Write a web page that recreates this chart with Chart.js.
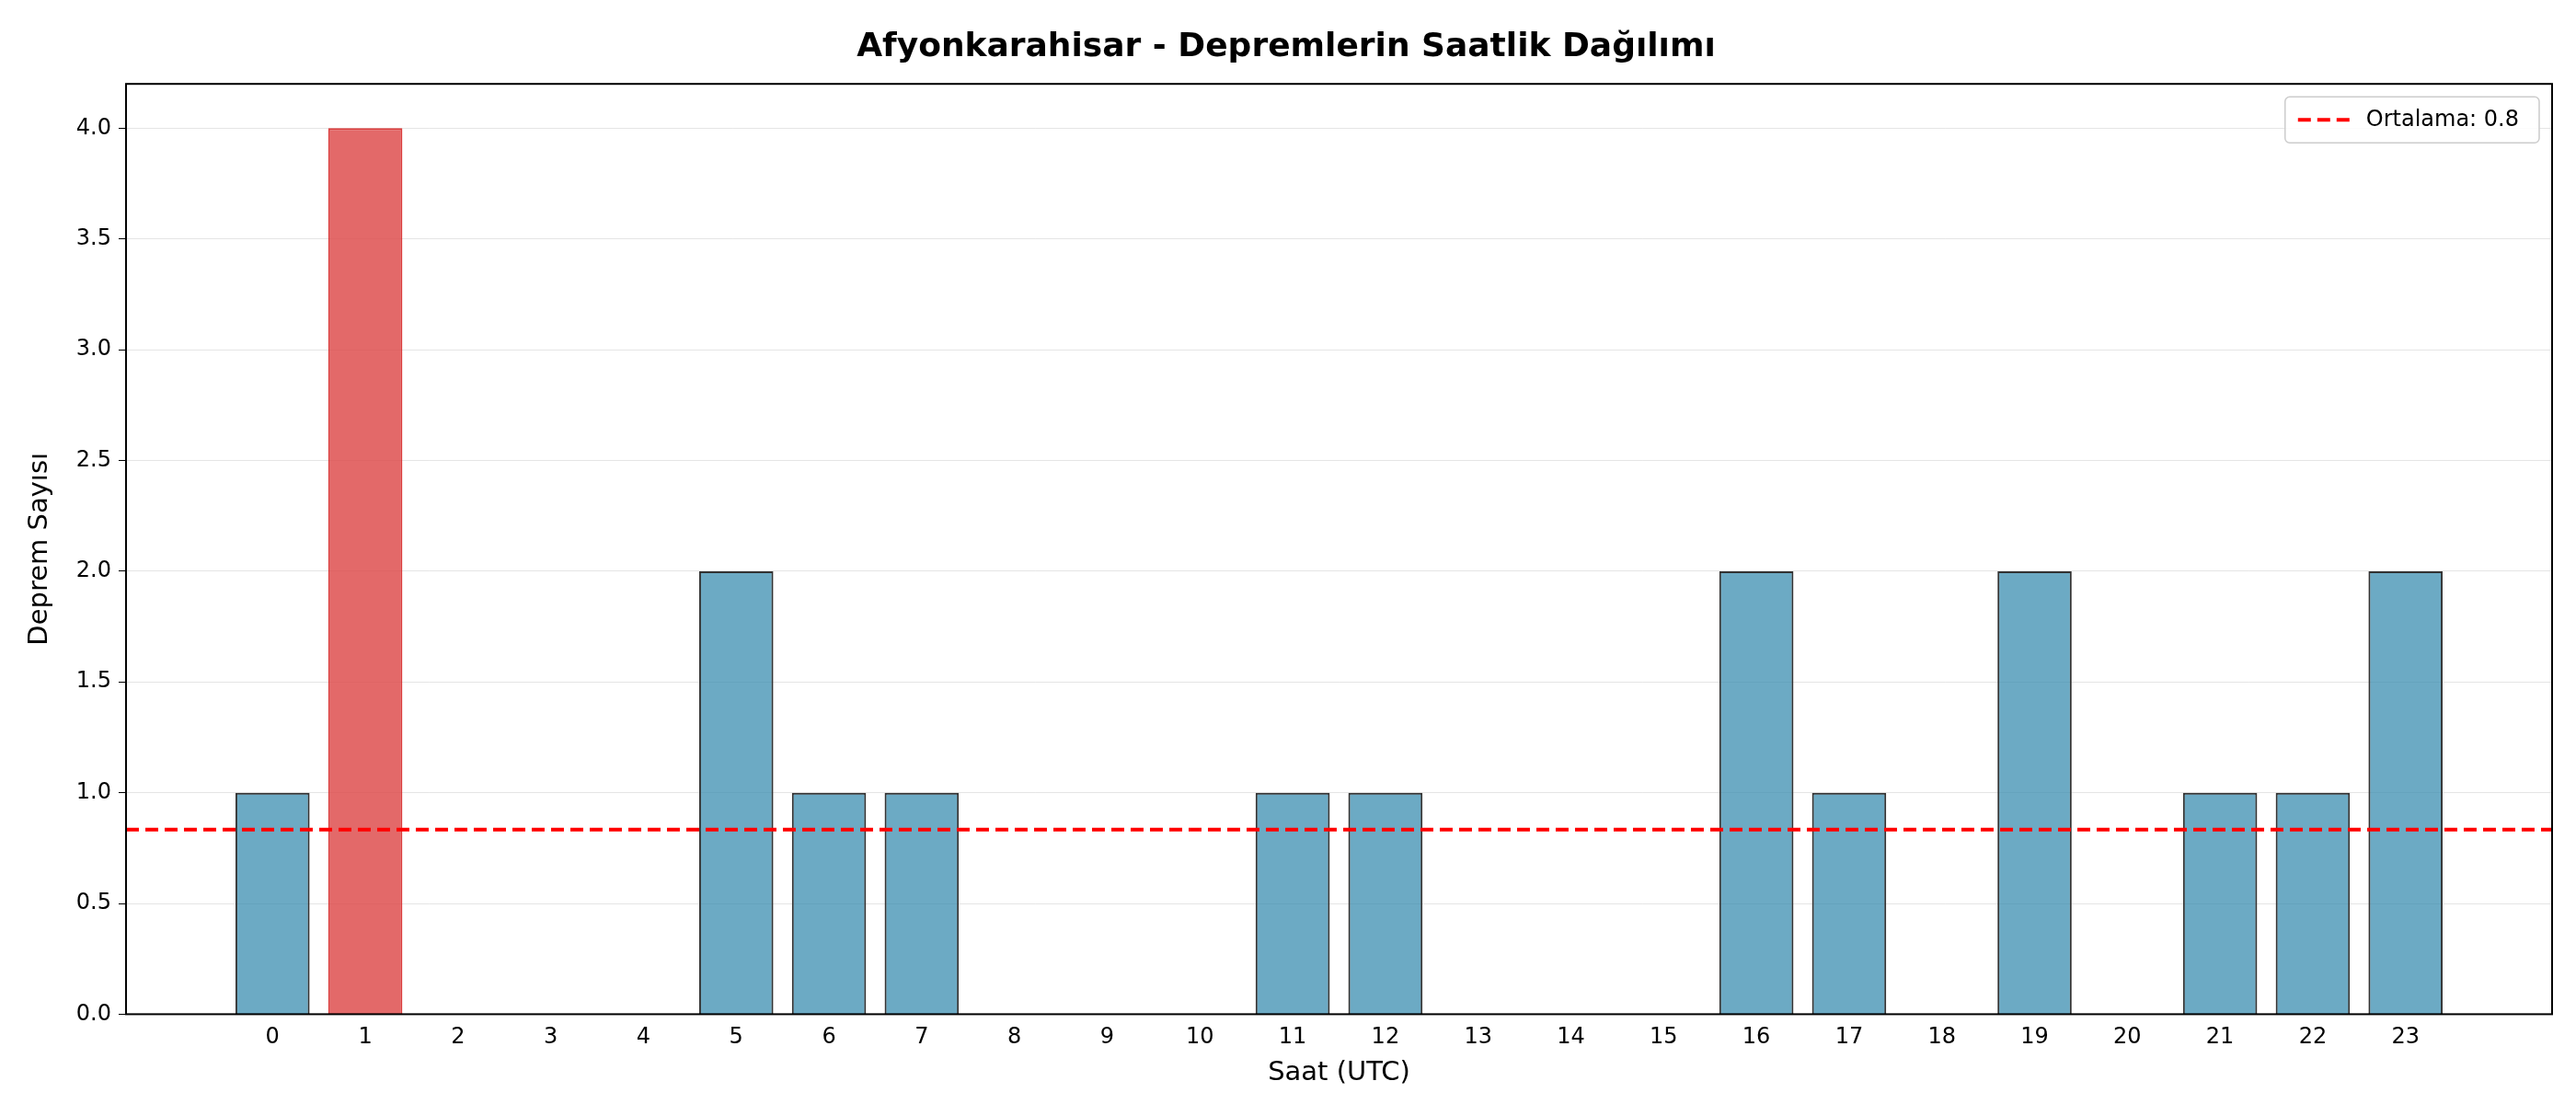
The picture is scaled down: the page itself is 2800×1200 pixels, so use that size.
<!DOCTYPE html>
<html>
<head>
<meta charset="utf-8">
<script src="https://cdn.jsdelivr.net/npm/chart.js@4/dist/chart.umd.min.js"></script>
<style>body{margin:0;background:#fff}</style>
</head>
<body>
<canvas id="c" width="2800" height="1200"></canvas>
<script>
const hours = [0,1,2,3,4,5,6,7,8,9,10,11,12,13,14,15,16,17,18,19,20,21,22,23];
const counts = [1,4,0,0,0,2,1,1,0,0,0,1,1,0,0,0,2,1,0,2,0,1,1,2];
const yTicks = [0,0.5,1,1.5,2,2.5,3,3.5,4];
const meanValue = counts.reduce((a, b) => a + b, 0) / counts.length;
const peak = Math.max(...counts);

const xMin = -1.58, xMax = 24.58;
const font = "DejaVu Sans";
const meanLabel = "Ortalama: " + meanValue.toFixed(1);

const frame = {
    id: "frame",
    afterDraw(chart) {
        const a = chart.chartArea, ctx = chart.ctx;
        ctx.save();
        ctx.strokeStyle = "#000";
        ctx.lineWidth = 2;
        ctx.strokeRect(a.left, a.top, a.right - a.left, a.bottom - a.top);
        // legend box, upper right
        ctx.font = "24px " + font;
        const tw = ctx.measureText(meanLabel).width;
        const w = tw + 110, h = 50;
        const x = a.right - 14 - w, y = a.top + 14;
        ctx.fillStyle = "rgba(255,255,255,0.85)";
        ctx.strokeStyle = "#ccc";
        ctx.lineWidth = 1.5;
        ctx.beginPath();
        ctx.roundRect(x, y, w, h, 5);
        ctx.fill();
        ctx.stroke();
        ctx.strokeStyle = "#ff0000";
        ctx.lineWidth = 4;
        ctx.setLineDash([14, 7]);
        ctx.beginPath();
        ctx.moveTo(x + 14, y + h / 2);
        ctx.moveTo(x + 14, y + h / 2);
        ctx.lineTo(x + 70, y + h / 2);
        ctx.stroke();
        ctx.setLineDash([]);
        ctx.fillStyle = "#000";
        ctx.textBaseline = "middle";
        ctx.fillText(meanLabel, x + 88, y + h / 2 + 1);
        ctx.restore();
    }
};

new Chart(document.getElementById("c"), {
    data: {
        datasets: [{
            type: "bar",
            label: "Saatlik",
            data: hours.map((h, i) => ({ x: h, y: counts[i] })),
            backgroundColor: counts.map(v => v === peak ? "rgba(221,72,72,0.82)" : "rgba(46,134,171,0.7)"),
            borderColor: counts.map(v => v === peak ? "rgba(214,40,40,0.9)" : "#333"),
            borderWidth: 2,
            barPercentage: 0.8,
            categoryPercentage: 1,
            order: 2
        }, {
            type: "line",
            label: meanLabel,
            data: [{ x: xMin, y: meanValue }, { x: xMax, y: meanValue }],
            borderColor: "#ff0000",
            borderWidth: 4,
            borderDash: [14, 7],
            pointRadius: 0,
            order: 1
        }]
    },
    options: {
        responsive: false,
        animation: false,
        devicePixelRatio: 1,
        layout: { padding: { left: 22, right: 26, top: 8, bottom: 12 } },
        plugins: {
            title: {
                display: true,
                text: "Afyonkarahisar - Depremlerin Saatlik Dağılımı",
                font: { family: font, size: 36, weight: "bold" },
                color: "#000",
                padding: { top: 22, bottom: 18 }
            },
            legend: { display: false },
            tooltip: { enabled: false }
        },
        scales: {
            x: {
                type: "linear",
                offset: false,
                min: xMin,
                max: xMax,
                afterBuildTicks: axis => { axis.ticks = hours.map(h => ({ value: h })); },
                ticks: { font: { family: font, size: 24 }, color: "#000", callback: v => v, maxRotation: 0, autoSkip: false },
                grid: { display: false, drawTicks: true, tickColor: "#000", tickLength: 8 },
                title: { display: true, text: "Saat (UTC)", font: { family: font, size: 29 }, color: "#000" }
            },
            y: {
                min: 0,
                max: 4.2,
                afterBuildTicks: axis => { axis.ticks = yTicks.map(v => ({ value: v })); },
                ticks: { font: { family: font, size: 24 }, color: "#000", callback: v => Number(v).toFixed(1), padding: 8 },
                grid: { color: "rgba(0,0,0,0.1)", tickColor: "#000", tickLength: 8 },
                title: { display: true, text: "Deprem Sayısı", font: { family: font, size: 29 }, color: "#000", padding: { bottom: 14 } }
            }
        }
    },
    plugins: [frame]
});
</script>
</body>
</html>
